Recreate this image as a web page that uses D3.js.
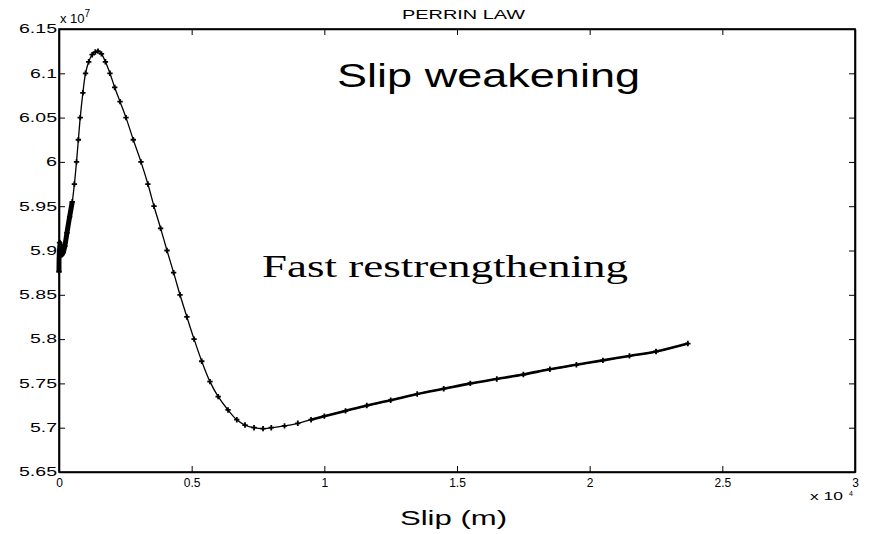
<!DOCTYPE html>
<html>
<head>
<meta charset="utf-8">
<script src="https://cdn.jsdelivr.net/npm/d3@7"></script>
<style>
html,body{margin:0;padding:0;background:#fff;}
svg{display:block;}
text{font-family:"Liberation Sans",Arial,Helvetica,sans-serif;fill:#000;}
</style>
</head>
<body>
<svg id="chart" width="870" height="534"></svg>
<script>
// ---- data (slip in units of 1e4 m, stress in units of 1e7) ----
const slip = [0.000,0.002,0.005,0.010,0.016,0.022,0.030,0.040,0.050,0.058,0.066,0.073,0.080,0.090,0.100,0.112,0.125,0.137,0.147,0.160,0.175,0.192,0.210,0.230,0.2525,0.280,0.309,0.335,0.358,0.383,0.407,0.432,0.456,0.482,0.509,0.538,0.569,0.600,0.637,0.670,0.701,0.735,0.769,0.800,0.850,0.900,0.950,1.000,1.080,1.160,1.250,1.350,1.450,1.550,1.650,1.750,1.850,1.950,2.050,2.150,2.250,2.370];
const stress = [5.876,5.909,5.905,5.895,5.898,5.905,5.920,5.938,5.955,5.975,6.000,6.025,6.050,6.078,6.100,6.113,6.121,6.124,6.125,6.122,6.113,6.100,6.084,6.068,6.050,6.025,6.000,5.975,5.950,5.925,5.900,5.875,5.850,5.825,5.800,5.775,5.752,5.735,5.720,5.709,5.703,5.700,5.699,5.700,5.702,5.705,5.709,5.713,5.719,5.725,5.731,5.738,5.744,5.750,5.755,5.760,5.766,5.771,5.776,5.781,5.786,5.795];
const xTicks = [0,0.5,1,1.5,2,2.5,3];
const xTickLabels = ["0","0.5","1","1.5","2","2.5","3"];
const yTicks = [5.65,5.7,5.75,5.8,5.85,5.9,5.95,6,6.05,6.1,6.15];
const yTickLabels = ["5.65","5.7","5.75","5.8","5.85","5.9","5.95","6","6.05","6.1","6.15"];
const titleText = "PERRIN LAW";
const xLabelText = "Slip (m)";
const note1 = "Slip weakening";
const note2 = "Fast restrengthening";

// ---- layout ----
const L = 59, R = 855, T = 29, B = 472;
const svg = d3.select("#chart");
svg.append("rect").attr("width",870).attr("height",534).attr("fill","#fff");

const x = d3.scaleLinear().domain([0,3]).range([L,R]);
const y = d3.scaleLinear().domain([5.65,6.15]).range([B,T]);

function labelLen(s){
  let n=0; for(const c of s){ n += (c===".")?5:11; } return n;
}

// bottom axis
const gx = svg.append("g").attr("transform",`translate(0,${B})`)
  .call(d3.axisBottom(x).tickValues(xTicks).tickFormat((d,i)=>xTickLabels[i]).tickSizeInner(-6).tickSizeOuter(0).tickPadding(6));
gx.selectAll("text").attr("font-size",12).attr("font-family","Liberation Sans, Arial, sans-serif");
// top axis (ticks only)
svg.append("g").attr("transform",`translate(0,${T})`)
  .call(d3.axisTop(x).tickValues(xTicks).tickFormat("").tickSizeInner(-6).tickSizeOuter(0));
// left axis
const gy = svg.append("g").attr("transform",`translate(${L},0)`)
  .call(d3.axisLeft(y).tickValues(yTicks).tickFormat((d,i)=>yTickLabels[i]).tickSizeInner(-6).tickSizeOuter(0).tickPadding(2));
gy.selectAll("text").attr("font-size",12).attr("font-family","Liberation Sans, Arial, sans-serif")
  .attr("textLength",function(){return labelLen(this.textContent);})
  .attr("lengthAdjust","spacingAndGlyphs");
// right axis (ticks only)
svg.append("g").attr("transform",`translate(${R},0)`)
  .call(d3.axisRight(y).tickValues(yTicks).tickFormat("").tickSizeInner(-6).tickSizeOuter(0));

svg.selectAll(".domain").attr("stroke","#000").attr("stroke-width",1.6);
svg.selectAll(".tick line").attr("stroke","#000").attr("stroke-width",1);

// box
svg.append("rect").attr("x",L).attr("y",T).attr("width",R-L).attr("height",B-T)
  .attr("fill","none").attr("stroke","#000").attr("stroke-width",1.6);

// exponents
const e7 = svg.append("text").attr("x",60).attr("y",23).attr("font-size",13);
e7.append("tspan").text("x 10");
e7.append("tspan").attr("dy",-6).attr("font-size",10).text("7");
const e4 = svg.append("text").attr("x",810).attr("y",500).attr("font-size",10);
e4.append("tspan").attr("textLength",33).attr("lengthAdjust","spacingAndGlyphs").text("x 10");
e4.append("tspan").attr("x",849).attr("dy",-4).attr("font-size",7).text("4");

// title and labels
svg.append("text").attr("x",402).attr("y",19).attr("font-size",13)
  .attr("textLength",123).attr("lengthAdjust","spacingAndGlyphs").text(titleText);
svg.append("text").attr("x",400).attr("y",525).attr("font-size",21)
  .attr("textLength",107).attr("lengthAdjust","spacingAndGlyphs").text(xLabelText);
svg.append("text").attr("x",337).attr("y",87).attr("font-size",34)
  .attr("textLength",303).attr("lengthAdjust","spacingAndGlyphs").text(note1);
svg.append("text").attr("x",262).attr("y",277).attr("font-size",31)
  .style("font-family","'Liberation Serif','Times New Roman',serif")
  .attr("textLength",366).attr("lengthAdjust","spacingAndGlyphs").text(note2);

// curve
const pts = slip.map((s,i)=>({s, v:stress[i]}));
const line = d3.line().x(d=>x(d.s)).y(d=>y(d.v)).curve(d3.curveCatmullRom.alpha(0.5));
svg.append("path").datum(pts).attr("d",line).attr("fill","none").attr("stroke","#000").attr("stroke-width",1.3);
// dense start and tail drawn heavier
svg.append("path").datum(pts.filter(d=>d.s<=0.05)).attr("d",line).attr("fill","none")
  .attr("stroke","#000").attr("stroke-width",5).attr("stroke-linejoin","round");
svg.append("path").datum(pts.filter(d=>d.s>=0.95)).attr("d",line).attr("fill","none")
  .attr("stroke","#000").attr("stroke-width",2.6).attr("stroke-linecap","round");

const sym = d3.symbol().type(d3.symbolCross).size(16);
svg.append("g").selectAll("path").data(pts).join("path")
  .attr("transform",d=>`translate(${x(d.s)},${y(d.v)})`)
  .attr("d",sym).attr("fill","#000");
</script>
</body>
</html>
